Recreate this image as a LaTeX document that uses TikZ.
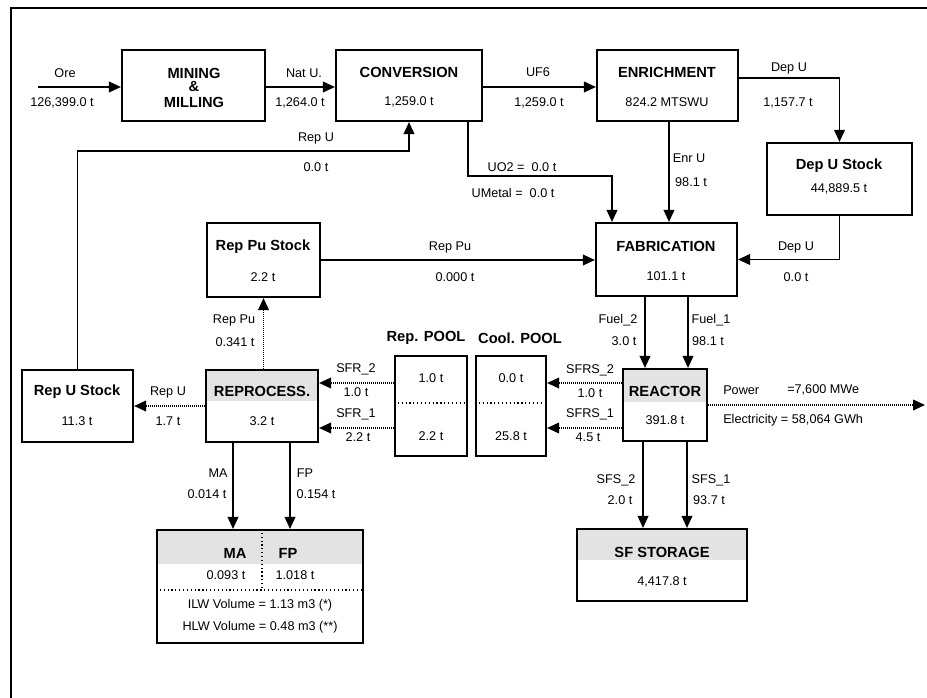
\documentclass[tikz,border=0pt]{standalone}
\usepackage{fontspec}
\setmainfont{Liberation Sans}
\usetikzlibrary{arrows.meta,fit}
\begin{document}
\begin{tikzpicture}[x=0.75pt,y=-0.75pt,
  box/.style={draw, line width=1.6pt, inner sep=0pt},
  flow/.style={line width=1.3pt, -{Triangle[length=9pt,width=8pt]}},
  dflow/.style={flow, dash pattern=on 0.9pt off 0.6pt},
  ttl/.style={font=\fontsize{11}{13}\selectfont\bfseries, inner sep=0pt},
  lbl/.style={font=\fontsize{9.5}{11}\selectfont, inner sep=0pt},
  shadebox/.style={fill=black!11},
  sepline/.style={dotted, line width=0.9pt}
]
\useasboundingbox (0,0) rectangle (927,698);
% outer frame
\draw[line width=1.2pt] (11,698) -- (11,8) -- (927,8);

% header shadings
\fill[shadebox] (206,370) rectangle (318,401);
\fill[shadebox] (623,369) rectangle (707,402);
\fill[shadebox] (577,529) rectangle (747,560);
\fill[shadebox] (157,530) rectangle (363,564);

% boxes
\node[box, fit={(122,50) (265,121)}] (mill) {};
\node[box, fit={(336,50) (482,121)}] (conv) {};
\node[box, fit={(597,50) (738,121)}] (enr) {};
\node[box, fit={(767,143) (912,215)}] (depstock) {};
\node[box, fit={(596,223) (737,296)}] (fab) {};
\node[box, fit={(207,223) (320,297)}] (rpustock) {};
\node[box, fit={(22,370) (133,442)}] (rustock) {};
\node[box, fit={(206,370) (318,442)}] (reproc) {};
\node[box, fit={(395,356) (467,456)}] (reppool) {};
\node[box, fit={(476,356) (546,456)}] (coolpool) {};
\node[box, fit={(623,369) (707,441)}] (reac) {};
\node[box, fit={(577,529) (747,601)}] (sfs) {};
\node[box, fit={(157,530) (363,643)}] (waste) {};

% separators inside boxes
\draw[sepline] (reppool.west |- 0,403) -- (reppool.east |- 0,403);
\draw[sepline] (coolpool.west |- 0,403) -- (coolpool.east |- 0,403);
\draw[sepline] (waste.west |- 0,590) -- (waste.east |- 0,590);
\draw[sepline] (262,0 |- waste.north) -- (262,590);

% box texts
\node[ttl] (t-mill1) at (194,73) {MINING};
\node[ttl] (t-mill2) at (194,87) {\&};
\node[ttl] (t-mill3) at (194,102) {MILLING};
\node[ttl] (t-conv) at (409,72) {CONVERSION};
\node[lbl] (v-conv) at (409,102) {1,259.0 t};
\node[ttl] (t-enr) at (667,72) {ENRICHMENT};
\node[lbl] (v-enr) at (667,102) {824.2 MTSWU};
\node[ttl] (t-dep) at (839,166) {Dep U Stock};
\node[lbl] (v-dep) at (839,189) {44,889.5 t};
\node[ttl] (t-fab) at (666,246) {FABRICATION};
\node[lbl] (v-fab) at (666,276) {101.1 t};
\node[ttl] (t-rpu) at (263,247) {Rep Pu Stock};
\node[lbl] (v-rpu) at (263,277) {2.2 t};
\node[ttl] (t-ru) at (77,392) {Rep U Stock};
\node[lbl] (v-ru) at (77,421) {11.3 t};
\node[ttl] (t-rep) at (262,391) {REPROCESS.};
\node[lbl] (v-rep) at (262,421) {3.2 t};
\node[ttl] (t-reac) at (665,391) {REACTOR};
\node[lbl] (v-reac) at (665,420) {391.8 t};
\node[ttl] (t-rpool) at (426,338) {Rep. POOL};
\node[ttl] (t-cpool) at (520,338) {Cool. POOL};
\node[lbl] (v-rpool2) at (431,378) {1.0 t};
\node[lbl] (v-rpool1) at (431,436) {2.2 t};
\node[lbl] (v-cpool2) at (511,378) {0.0 t};
\node[lbl] (v-cpool1) at (511,436) {25.8 t};
\node[ttl] (t-sfs) at (662,552) {SF STORAGE};
\node[lbl] (v-sfs) at (662,582) {4,417.8 t};
\node[ttl] (t-wma) at (235,553) {MA};
\node[ttl] (t-wfp) at (288,553) {FP};
\node[lbl] (v-wma) at (226,575) {0.093 t};
\node[lbl] (v-wfp) at (295,575) {1.018 t};
\node[lbl] (v-ilw) at (260,605) {ILW Volume = 1.13 m3 (*)};
\node[lbl] (v-hlw) at (260,627) {HLW Volume = 0.48 m3 (**)};

% connectors
\coordinate (orein) at (38,87);
\draw[flow] (orein) -- (orein -| mill.west);
\node[lbl] (l-ore1) at (65,73) {Ore};
\node[lbl] (l-ore2) at (62,103) {126,399.0 t};

\draw[flow] (mill.east |- 0,87) -- (conv.west |- 0,87);
\node[lbl] (l-nat1) at (304,73) {Nat U.};
\node[lbl] (l-nat2) at (300,103) {1,264.0 t};

\draw[flow] (conv.east |- 0,87) -- (enr.west |- 0,87);
\node[lbl] (l-uf1) at (538,72) {UF6};
\node[lbl] (l-uf2) at (539,103) {1,259.0 t};

\draw[flow] (enr.east |- 0,78) -| (depstock.north);
\node[lbl] (l-dep1) at (789,68) {Dep U};
\node[lbl] (l-dep2) at (788,103) {1,157.7 t};

\draw[flow] (depstock.south) |- (fab.east);
\node[lbl] (l-dep3) at (796,247) {Dep U};
\node[lbl] (l-dep4) at (796,277) {0.0 t};

\draw[flow] (669,0 |- enr.south) -- (669,0 |- fab.north);
\node[lbl] (l-enr1) at (689,158) {Enr U};
\node[lbl] (l-enr2) at (691,182) {98.1 t};

\draw[flow] (468,0 |- conv.south) -- (468,176) -- (612,176) -- (612,0 |- fab.north);
\node[lbl] (l-uo2) at (522,167) {UO2 =\ \ 0.0 t};
\node[lbl] (l-umet) at (513,193) {UMetal =\ \ 0.0 t};

\draw[flow] (rustock.north) |- (409,151) -- (409,0 |- conv.south);
\node[lbl] (l-ru1) at (316,138) {Rep U};
\node[lbl] (l-ru2) at (316,167) {0.0 t};

\draw[flow] (rpustock.east) -- (rpustock.east -| fab.west);
\node[lbl] (l-rpu1) at (450,247) {Rep Pu};
\node[lbl] (l-rpu2) at (455,277) {0.000 t};

\draw[dflow] (reproc.north -| rpustock.south) -- (rpustock.south);
\node[lbl] (l-rpu3) at (234,320) {Rep Pu};
\node[lbl] (l-rpu4) at (235,342) {0.341 t};

\draw[dflow] (reproc.west) -- (reproc.west -| rustock.east);
\node[lbl] (l-ru3) at (168,392) {Rep U};
\node[lbl] (l-ru4) at (168,421) {1.7 t};

\draw[dflow] (reppool.west |- 0,383) -- (reproc.east |- 0,383);
\node[lbl] (l-sfr2a) at (356,369) {SFR\_2};
\node[lbl] (l-sfr2b) at (356,392) {1.0 t};
\draw[dflow] (reppool.west |- 0,428) -- (reproc.east |- 0,428);
\node[lbl] (l-sfr1a) at (356,414) {SFR\_1};
\node[lbl] (l-sfr1b) at (358,437) {2.2 t};

\draw[dflow] (reac.west |- 0,383) -- (coolpool.east |- 0,383);
\node[lbl] (l-sfrs2a) at (590,370) {SFRS\_2};
\node[lbl] (l-sfrs2b) at (590,393) {1.0 t};
\draw[dflow] (reac.west |- 0,428) -- (coolpool.east |- 0,428);
\node[lbl] (l-sfrs1a) at (590,414) {SFRS\_1};
\node[lbl] (l-sfrs1b) at (588,437) {4.5 t};

\draw[flow] (645,0 |- fab.south) -- (645,0 |- reac.north);
\node[lbl] (l-f2a) at (618,320) {Fuel\_2};
\node[lbl] (l-f2b) at (624,341) {3.0 t};
\draw[flow] (688,0 |- fab.south) -- (688,0 |- reac.north);
\node[lbl] (l-f1a) at (711,320) {Fuel\_1};
\node[lbl] (l-f1b) at (708,341) {98.1 t};

\coordinate (powend) at (925,405);
\draw[dflow] (reac.east |- powend) -- (powend);
\node[lbl, anchor=west] (l-pow1) at (723,390) {Power};
\node[lbl, anchor=west] (l-pow2) at (787,390) {=7,600 MWe};
\node[lbl, anchor=west] (l-pow3) at (723,420) {Electricity = 58,064 GWh};

\draw[flow] (643,0 |- reac.south) -- (643,0 |- sfs.north);
\node[lbl] (l-s2a) at (616,480) {SFS\_2};
\node[lbl] (l-s2b) at (620,500) {2.0 t};
\draw[flow] (687,0 |- reac.south) -- (687,0 |- sfs.north);
\node[lbl] (l-s1a) at (711,480) {SFS\_1};
\node[lbl] (l-s1b) at (709,500) {93.7 t};

\draw[flow] (233,0 |- reproc.south) -- (233,0 |- waste.north);
\node[lbl] (l-ma1) at (218,473) {MA};
\node[lbl] (l-ma2) at (207,494) {0.014 t};
\draw[flow] (290,0 |- reproc.south) -- (290,0 |- waste.north);
\node[lbl] (l-fp1) at (305,473) {FP};
\node[lbl] (l-fp2) at (316,494) {0.154 t};
\end{tikzpicture}
\end{document}
